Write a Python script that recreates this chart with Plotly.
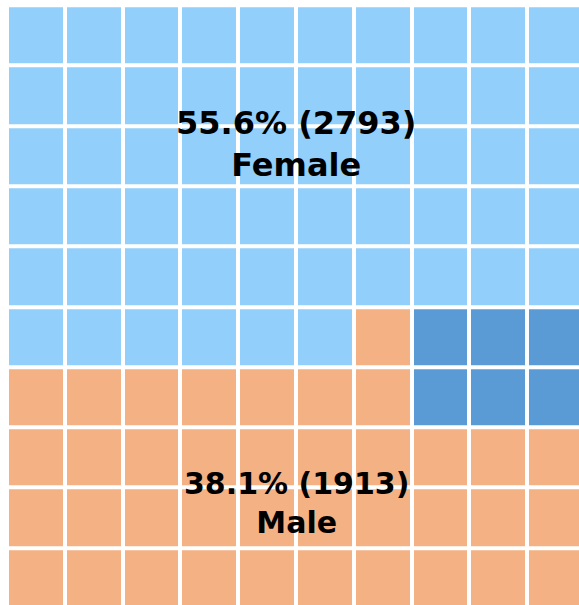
import plotly.graph_objects as go

# ---- data ----
categories = ["Female", "Male", "Other"]
counts = [2793, 1913, 317]
percent_labels = ["55.6%", "38.1%", "6.3%"]
colors = ["#93CFFB", "#F4B183", "#5B9BD5"]
# waffle layout (top row first); F=Female, M=Male, O=Other
grid_rows = [
    "FFFFFFFFFF",
    "FFFFFFFFFF",
    "FFFFFFFFFF",
    "FFFFFFFFFF",
    "FFFFFFFFFF",
    "FFFFFFMOOO",
    "MMMMMMMOOO",
    "MMMMMMMMMM",
    "MMMMMMMMMM",
    "MMMMMMMMMM",
]
code_index = {"F": 0, "M": 1, "O": 2}

z = [[code_index[c] for c in row] for row in grid_rows]
text = [[categories[code_index[c]] for c in row] for row in grid_rows]

n = len(colors)
colorscale = []
for i, c in enumerate(colors):
    colorscale.append([i / n, c])
    colorscale.append([(i + 1) / n, c])

fig = go.Figure(
    go.Heatmap(
        z=z,
        x=list(range(10)),
        y=list(range(10)),
        text=text,
        hovertemplate="%{text}<extra></extra>",
        colorscale=colorscale,
        zmin=-0.5,
        zmax=n - 0.5,
        showscale=False,
        xgap=4,
        ygap=4,
    )
)

# label placement: (x, y, font size)
label_pos = {"Female": (4.5, 1.80, 32), "Male": (4.5, 7.76, 30)}
for cat, cnt, pct in zip(categories, counts, percent_labels):
    if cat in label_pos:
        x, y, fs = label_pos[cat]
        fig.add_annotation(
            x=x, y=y, xref="x", yref="y",
            text=f"<b>{pct} ({cnt})</b><br><b>{cat}</b>",
            showarrow=False,
            align="center",
            font=dict(family="DejaVu Sans", size=fs, color="#000000"),
            xanchor="center", yanchor="middle",
        )

fig.update_layout(
    width=579,
    height=605,
    margin=dict(l=0, r=0, t=0, b=0),
    paper_bgcolor="white",
    plot_bgcolor="white",
    xaxis=dict(range=[-0.621, 9.396], visible=False, fixedrange=True),
    yaxis=dict(range=[9.447, -0.586], visible=False, fixedrange=True),
    showlegend=False,
)

fig.write_html(
    "out.html",
    config={"displayModeBar": False},
    post_script=(
        "document.body.style.margin='0';"
        "document.documentElement.style.overflow='hidden';"
        "document.body.style.overflow='hidden';"
    ),
)
